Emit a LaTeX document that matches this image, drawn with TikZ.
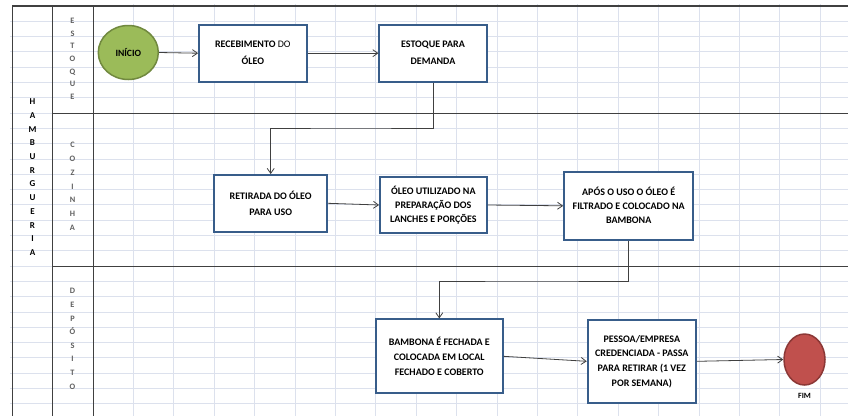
\documentclass[tikz,border=0pt]{standalone}
\usepackage{fontspec}
\setmainfont{Carlito}
\usetikzlibrary{arrows.meta,shapes.geometric}
\definecolor{gridc}{RGB}{220,225,237}
\definecolor{rulec}{RGB}{64,64,64}
\definecolor{boxc}{RGB}{56,93,138}
\definecolor{startfill}{RGB}{155,187,89}
\definecolor{startline}{RGB}{113,137,63}
\definecolor{endfill}{RGB}{192,80,77}
\definecolor{endline}{RGB}{140,56,54}
\definecolor{lanetext}{RGB}{95,95,95}
\tikzset{
  gridline/.style={draw=gridc, line width=0.9pt},
  laneline/.style={draw=rulec, line width=1.1pt},
  stepbox/.style={draw=boxc, line width=1.8pt, fill=white, inner sep=0pt,
    align=center, font=\fontsize{10}{14}\selectfont\bfseries},
  arr/.style={draw=rulec, line width=0.8pt, -{Straight Barb[length=5pt,width=7pt]}},
  lanelabel/.style={inner sep=0pt, align=center, text=lanetext},
}
\begin{document}
\begin{tikzpicture}[x=1pt,y=-1pt]
\useasboundingbox (0,0) rectangle (848,416);
\fill[white] (0,0) rectangle (848,416);

% spreadsheet grid
\foreach \k in {1,...,26}
  \draw[gridline] (10,{6+15.3*\k}) -- (848,{6+15.3*\k});
\foreach \k in {3,...,20}
  \draw[gridline] ({12.3+40.4*\k},4) -- ({12.3+40.4*\k},416);

% pool and lane borders
\draw[laneline] (12.3,6) -- (848,6);
\draw[laneline] (12.3,6) -- (12.3,416);
\draw[laneline] (52.7,6) -- (52.7,416);
\draw[laneline] (93.1,6) -- (93.1,416);
\draw[laneline] (52.7,113.1) -- (848,113.1);
\draw[laneline] (52.7,266.1) -- (848,266.1);

% pool and lane titles
\node[lanelabel, text=black, font=\fontsize{9}{13.73}\selectfont\bfseries] (pool) at (32.5,177.2)
  {H\\A\\M\\B\\U\\R\\G\\U\\E\\R\\I\\A};
\node[lanelabel, font=\fontsize{8.3}{12.67}\selectfont\bfseries] (laneA) at (72.5,58.7)
  {E\\S\\T\\O\\Q\\U\\E};
\node[lanelabel, font=\fontsize{8.3}{13.8}\selectfont\bfseries] (laneB) at (72.5,186.3)
  {C\\O\\Z\\I\\N\\H\\A};
\node[lanelabel, font=\fontsize{8.3}{13.6}\selectfont\bfseries] (laneC) at (72.5,338.8)
  {D\\E\\P\\Ó\\S\\I\\T\\O};

% flow steps
\node[ellipse, draw=startline, line width=1.5pt, fill=startfill, minimum width=60pt,
  minimum height=54pt, inner sep=0pt, font=\fontsize{9.6}{11}\selectfont\bfseries] (inicio) at (128.3,52.5) {INÍCIO};
\node[stepbox, minimum width=107.7pt, minimum height=57pt,
  font=\fontsize{10}{17}\selectfont] (receb) at (252.8,53.2)
  {\textbf{RECEBIMENTO} DO\\\textbf{ÓLEO}};
\node[stepbox, minimum width=107.3pt, minimum height=57pt,
  font=\fontsize{10}{17}\selectfont\bfseries] (estoque) at (433,53.2)
  {ESTOQUE PARA\\DEMANDA};
\node[stepbox, minimum width=113pt, minimum height=56.7pt,
  font=\fontsize{10}{16}\selectfont\bfseries] (retirada) at (270.7,203.3)
  {RETIRADA DO ÓLEO\\PARA USO};
\node[stepbox, minimum width=106.7pt, minimum height=56.7pt] (utilizado) at (433.3,205)
  {ÓLEO UTILIZADO NA\\PREPARAÇÃO DOS\\LANCHES E PORÇÕES};
\node[stepbox, minimum width=129.3pt, minimum height=68.3pt] (filtrado) at (628.7,205.8)
  {APÓS O USO O ÓLEO É\\FILTRADO E COLOCADO NA\\BAMBONA};
\node[stepbox, minimum width=126.7pt, minimum height=74pt,
  font=\fontsize{10}{15}\selectfont\bfseries] (bambona) at (439.3,356.3)
  {BAMBONA É FECHADA E\\COLOCADA EM LOCAL\\FECHADO E COBERTO};
\node[stepbox, minimum width=108.3pt, minimum height=82.7pt,
  font=\fontsize{10}{14.7}\selectfont\bfseries] (pessoa) at (641.8,361.3)
  {PESSOA/EMPRESA\\CREDENCIADA - PASSA\\PARA RETIRAR (1 VEZ\\POR SEMANA)};
\node[ellipse, draw=endline, line width=1.5pt, fill=endfill, minimum width=41pt,
  minimum height=51pt, inner sep=0pt] (fim) at (804.5,359.5) {};
\node[inner sep=0pt, font=\fontsize{8}{9}\selectfont\bfseries] (fimlabel) at (804.5,395.5) {FIM};

% elbow bends between lanes
\coordinate (bendA) at (350,128);
\coordinate (bendB) at (530,281);

% connectors
\draw[arr] (inicio.east) -- (receb.west);
\draw[arr] (receb.east) -- (estoque.west);
\draw[arr] (estoque.south) |- (bendA) -| (retirada.north);
\draw[arr] (retirada.east) -- (utilizado.west);
\draw[arr] (utilizado.east) -- (filtrado.west);
\draw[arr] (filtrado.south) |- (bendB) -| (bambona.north);
\draw[arr] (bambona.east) -- (pessoa.west);
\draw[arr] (pessoa.east) -- (fim.west);
\end{tikzpicture}
\end{document}
